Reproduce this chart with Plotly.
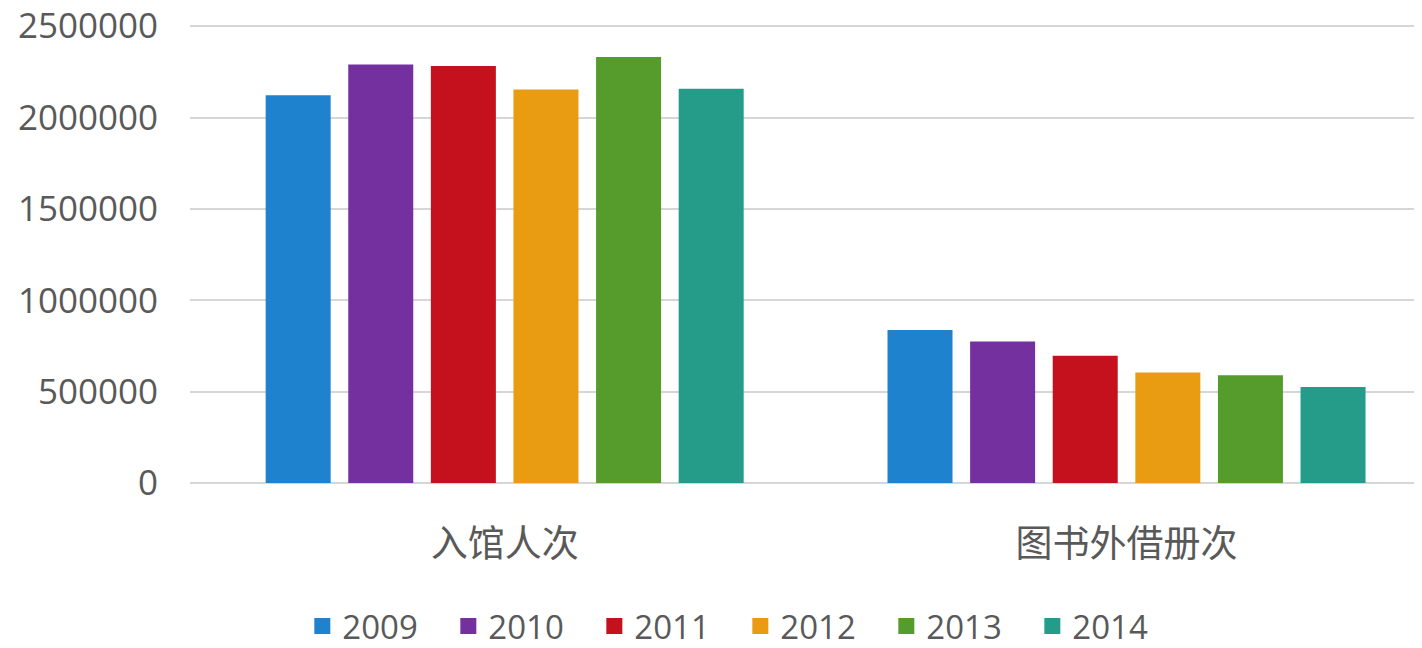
import plotly.graph_objects as go

categories = ["入馆人次", "图书外借册次"]
years = ["2009", "2010", "2011", "2012", "2013", "2014"]
values_2009 = [2122000, 837000]
values_2010 = [2290000, 775000]
values_2011 = [2282000, 696000]
values_2012 = [2153000, 605000]
values_2013 = [2332000, 590000]
values_2014 = [2158000, 526000]
series = [values_2009, values_2010, values_2011, values_2012, values_2013, values_2014]
colors = ["#1f82cf", "#7530a0", "#c5101e", "#e99b12", "#559c2c", "#259c8a"]
y_ticks = [0, 500000, 1000000, 1500000, 2000000, 2500000]

fig = go.Figure()
for name, vals, col in zip(years, series, colors):
    fig.add_trace(go.Bar(x=categories, y=vals, name=name, showlegend=False,
                         marker=dict(color=col, line=dict(width=0))))
# legend entries with larger square swatches
for name, col in zip(years, colors):
    fig.add_trace(go.Scatter(x=[None], y=[None], mode="markers", name=name,
                             marker=dict(symbol="square", size=22, color=col), showlegend=True))

fig.update_layout(
    width=1422, height=648,
    margin=dict(l=182, r=0, t=16, b=173.3, autoexpand=False),
    paper_bgcolor="white", plot_bgcolor="white",
    barmode="group", bargap=0.203, bargroupgap=0.213,
    font=dict(family="Open Sans, Noto Sans CJK SC", color="#595959", size=34),
    showlegend=True,
    legend=dict(orientation="h", xref="container", yref="container", x=0.515, xanchor="center",
                y=0.0895, yanchor="top", font=dict(size=33, color="#595959"),
                entrywidth=101, entrywidthmode="pixels", itemclick=False),
)
fig.update_xaxes(type="category", range=[-0.506, 1.488], showgrid=False, showline=False,
                 ticks="", tickfont=dict(family="Noto Sans CJK SC", size=37, color="#595959"),
                 ticklabelstandoff=36, automargin=False)
fig.update_yaxes(range=[0, 2512000], tickvals=y_ticks, ticktext=[str(v) for v in y_ticks],
                 showgrid=True, gridcolor="#d6d6d6", gridwidth=1.5, zeroline=True,
                 zerolinecolor="#d6d6d6", zerolinewidth=1.5, showline=False, ticks="",
                 tickfont=dict(size=35, color="#595959"), ticklabelstandoff=31,
                 ticklabeloverflow="allow", automargin=False)

fig.write_html("out.html")
